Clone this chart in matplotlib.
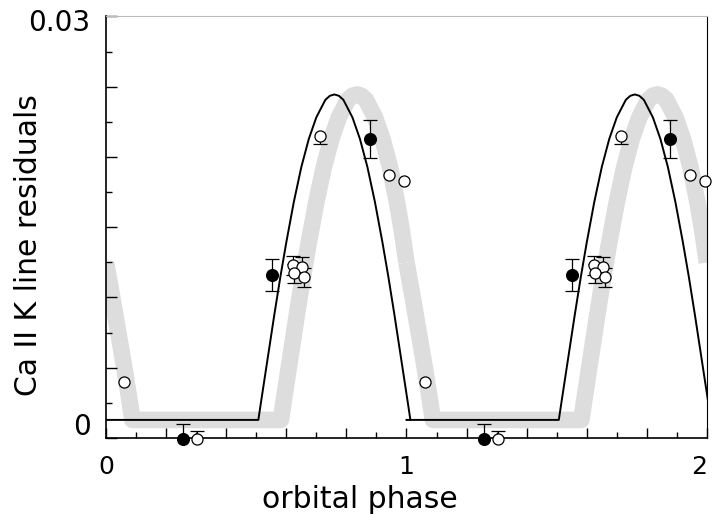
import numpy as np
import matplotlib
matplotlib.use('Agg')
import matplotlib.pyplot as plt
from matplotlib.ticker import MultipleLocator, FuncFormatter

# Model curve (black line), one orbital cycle
model_phase = [0.0, 0.507, 0.515, 0.53, 0.56, 0.58, 0.60, 0.625, 0.65, 0.675, 0.70, 0.73, 0.745,
               0.76, 0.775, 0.79, 0.82, 0.845, 0.87, 0.895, 0.92, 0.94, 0.96, 0.99, 1.005, 1.013]
model_resid = [0.0, 0.0, 0.0012, 0.0034, 0.0078, 0.0106, 0.0132, 0.0162, 0.0188, 0.0209, 0.0225, 0.0238, 0.0241,
               0.0242, 0.0241, 0.0238, 0.0225, 0.0209, 0.0188, 0.0162, 0.0132, 0.0106, 0.0078, 0.0034, 0.0012, 0.0]

# Broad grey curve, one cycle (wraps around phase 1)
band_phase = [0.0, 0.02, 0.04, 0.06, 0.075, 0.088, 0.582, 0.59, 0.605, 0.635, 0.655, 0.675, 0.70,
              0.725, 0.75, 0.775, 0.805, 0.82, 0.835, 0.85, 0.865, 0.895, 0.92, 0.945, 0.97, 0.985, 1.0]
band_resid = [0.0117, 0.0092, 0.0066, 0.0040, 0.0019, 0.0, 0.0, 0.0012, 0.0034, 0.0078, 0.0106, 0.0132, 0.0162,
              0.0188, 0.0209, 0.0225, 0.0238, 0.0241, 0.0242, 0.0241, 0.0238, 0.0225, 0.0209, 0.0188, 0.0160, 0.0140, 0.0117]

# Measurements (filled and open symbols), lower / upper error
filled_phase = [0.257, 0.552, 0.877]
filled_resid = [-0.0014, 0.0108, 0.0209]
filled_err_lo = [0.0, 0.0012, 0.0014]
filled_err_hi = [0.0011, 0.0012, 0.0014]

open_phase = [0.060, 0.303, 0.623, 0.653, 0.627, 0.660, 0.713, 0.943, 0.993]
open_resid = [0.0028, -0.0014, 0.0115, 0.0114, 0.0109, 0.0106, 0.0211, 0.0182, 0.0178]
open_err_lo = [0.0, 0.0, 0.0007, 0.0007, 0.0007, 0.0007, 0.0006, 0.0, 0.0]
open_err_hi = [0.0, 0.0006, 0.0007, 0.0007, 0.0007, 0.0007, 0.0, 0.0, 0.0]

cycles = [0, 1]
ylo, yhi = -0.00134, 0.03


def draw_points(ax, phase, resid, lo, hi, face, size):
    x = np.array(phase)
    y = np.array(resid)
    lo = np.array(lo)
    hi = np.array(hi)
    # error bars, caps only where there is an error
    ax.vlines(x, y - lo, y + hi, color='black', lw=0.9, zorder=3, clip_on=False)
    ax.plot(x[hi > 0], (y + hi)[hi > 0], ls='none', marker='_', ms=10, mew=0.9,
            color='black', zorder=3, clip_on=False)
    ax.plot(x[lo > 0], (y - lo)[lo > 0], ls='none', marker='_', ms=10, mew=0.9,
            color='black', zorder=3, clip_on=False)
    ax.plot(x, y, ls='none', marker='o', ms=size, mfc=face, mec='black', mew=0.9,
            zorder=4, clip_on=False)


fig = plt.figure(figsize=(7.12, 5.14), dpi=100)
ax = fig.add_axes([0.1489, 0.148, 0.844, 0.820])

for c in cycles:
    ax.plot(np.array(band_phase) + c, band_resid, color='#dddddd', lw=12,
            solid_capstyle='butt', zorder=1)
    ax.plot(np.array(model_phase) + c, model_resid, color='black', lw=1.4, zorder=2)

for c in cycles:
    draw_points(ax, np.array(open_phase) + c, open_resid, open_err_lo, open_err_hi, 'white', 8)
    draw_points(ax, np.array(filled_phase) + c, filled_resid, filled_err_lo, filled_err_hi, 'black', 8.5)

ax.set_xlim(0, 2)
ax.set_ylim(ylo, yhi)

# x axis
ax.xaxis.set_major_locator(MultipleLocator(0.2))
ax.xaxis.set_minor_locator(MultipleLocator(0.1))
ax.xaxis.set_major_formatter(FuncFormatter(
    lambda v, p: '%d' % round(v) if abs(v - round(v)) < 1e-6 else ''))
ax.tick_params(axis='x', which='major', direction='in', length=7, width=1, pad=12, labelsize=18)
ax.tick_params(axis='x', which='minor', direction='in', length=4, width=1)
fig.canvas.draw()
for lab in ax.get_xticklabels():
    if lab.get_text() == '2':
        lab.set_horizontalalignment('right')

# y axis: plain tick marks, labels placed by hand
yt = np.linspace(ylo, yhi, 7)
ax.set_yticks(yt)
ax.set_yticks((yt[:-1] + yt[1:]) / 2, minor=True)
ax.set_yticklabels([])
ax.tick_params(axis='y', which='major', direction='in', length=8, width=1)
ax.tick_params(axis='y', which='minor', direction='in', length=4, width=1)
for val, lab in zip([0, 0.03], ['0', '0.03']):
    ax.annotate(lab, xy=(0, val), xycoords=('axes fraction', 'data'), xytext=(-11, -5),
                textcoords='offset points', ha='right', va='center', fontsize=20)

ax.spines['top'].set_color('#bbbbbb')
ax.spines['right'].set_linewidth(0.8)
ax.spines['left'].set_linewidth(1.2)
ax.spines['bottom'].set_linewidth(1.2)

ax.set_xlabel('orbital phase', fontsize=21.5)
ax.set_ylabel('Ca II K line residuals', fontsize=21.5)
ax.xaxis.set_label_coords(0.423, -0.112)
ax.yaxis.set_label_coords(-0.105, 0.457)

fig.savefig('out.png', dpi=100)
